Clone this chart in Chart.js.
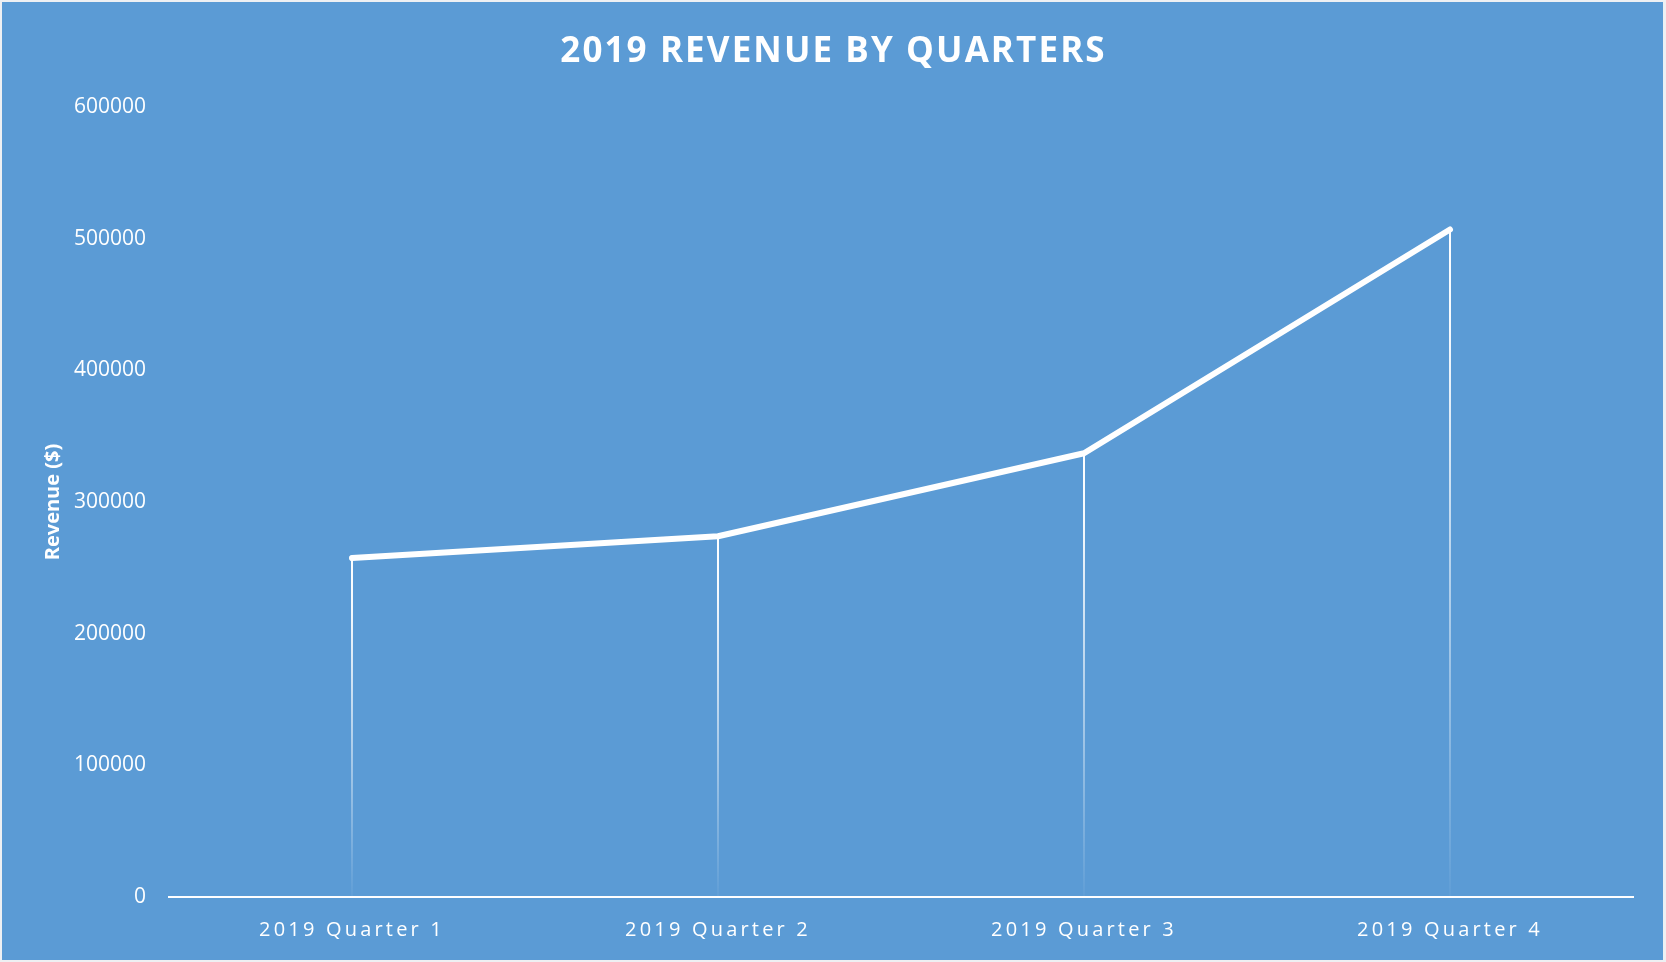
<!DOCTYPE html>
<html>
<head>
<meta charset="utf-8">
<script src="https://cdn.jsdelivr.net/npm/chart.js@4"></script>
<style>
    html, body { margin: 0; padding: 0; background: #eef0f3; }
    #wrap { width: 1666px; height: 962px; }
</style>
</head>
<body>
<div id="wrap"><canvas id="revenue-chart" width="1666" height="962"></canvas></div>
<script>
const quarters = ['2019 Quarter 1', '2019 Quarter 2', '2019 Quarter 3', '2019 Quarter 4'];
const revenue = [257500, 274000, 337000, 507000];
const yTicks = [0, 100000, 200000, 300000, 400000, 500000, 600000];

const BLUE = '#5b9bd5';

// patch a box's draw so its text gets letter spacing (dx nudges it sideways)
function spaced(box, method, px, dx) {
    if (!box || box['_sp_' + method]) return;
    const orig = box[method].bind(box);
    box[method] = function (...args) {
        const ctx = box.ctx || box.chart.ctx;
        ctx.save();
        ctx.letterSpacing = px + 'px';
        ctx.translate(dx || 0, 0);
        orig(...args);
        ctx.restore();
    };
    box['_sp_' + method] = true;
}

const framePlugin = {
    id: 'frame',
    beforeDraw(chart) {
        const ctx = chart.ctx;
        ctx.save();
        ctx.fillStyle = '#eef0f3';
        ctx.fillRect(0, 0, chart.width, chart.height);
        ctx.fillStyle = BLUE;
        ctx.fillRect(2, 2, chart.width - 5, chart.height - 4);
        ctx.restore();
    },
    afterLayout(chart) {
        spaced(chart.scales.x, 'drawLabels', 3.2, 0);
        // title box stops at the right padding, recentre it on the canvas
        spaced(chart.titleBlock, 'draw', 2.1, 17);
    }
};

// vertical drop lines from each point to the axis, fading downwards
const dropLines = {
    id: 'dropLines',
    beforeDatasetsDraw(chart) {
        const ctx = chart.ctx;
        const yBase = chart.scales.y.getPixelForValue(0);
        chart.getDatasetMeta(0).data.forEach(pt => {
            const g = ctx.createLinearGradient(0, pt.y, 0, yBase);
            g.addColorStop(0, 'rgba(255,255,255,1)');
            g.addColorStop(0.15, 'rgba(255,255,255,0.95)');
            g.addColorStop(1, 'rgba(255,255,255,0.03)');
            ctx.save();
            ctx.strokeStyle = g;
            ctx.lineWidth = 2;
            ctx.beginPath();
            ctx.moveTo(pt.x, pt.y);
            ctx.lineTo(pt.x, yBase);
            ctx.stroke();
            ctx.restore();
        });
    }
};

const ctx = document.getElementById('revenue-chart').getContext('2d');
new Chart(ctx, {
    type: 'line',
    data: {
        labels: quarters,
        datasets: [{
            label: 'Revenue',
            data: revenue,
            borderColor: '#ffffff',
            borderWidth: 6,
            borderCapStyle: 'round',
            borderJoinStyle: 'round',
            pointRadius: 0,
            tension: 0,
            fill: false
        }]
    },
    options: {
        responsive: false,
        animation: false,
        layout: { padding: { top: 0, right: 33, bottom: 0, left: 0 } },
        plugins: {
            legend: { display: false },
            tooltip: { enabled: false },
            title: {
                display: true,
                text: '2019 REVENUE BY QUARTERS',
                color: '#ffffff',
                font: { family: 'Open Sans', size: 35, weight: 'bold' },
                padding: { top: 31, bottom: 34 }
            }
        },
        scales: {
            x: {
                offset: true,
                grid: { display: false, drawTicks: false },
                border: { display: true, color: '#ffffff', width: 2 },
                ticks: {
                    color: '#ffffff',
                    font: { family: 'Open Sans', size: 20 },
                    padding: 21,
                    maxRotation: 0
                },
                afterFit(s) { s.height = 65; }
            },
            y: {
                min: 0,
                max: 600000,
                afterBuildTicks(s) { s.ticks = yTicks.map(v => ({ value: v })); },
                grid: { display: false, drawTicks: false },
                border: { display: false },
                ticks: {
                    color: '#ffffff',
                    font: { family: 'Open Sans', size: 21 },
                    padding: 23,
                    callback: v => String(v)
                },
                title: {
                    display: true,
                    text: 'Revenue ($)',
                    color: '#ffffff',
                    font: { family: 'Open Sans', size: 20, weight: 'bold' },
                    padding: { top: 41, bottom: 0 }
                },
                afterFit(s) { s.width = 169; }
            }
        }
    },
    plugins: [framePlugin, dropLines]
});
</script>
</body>
</html>
